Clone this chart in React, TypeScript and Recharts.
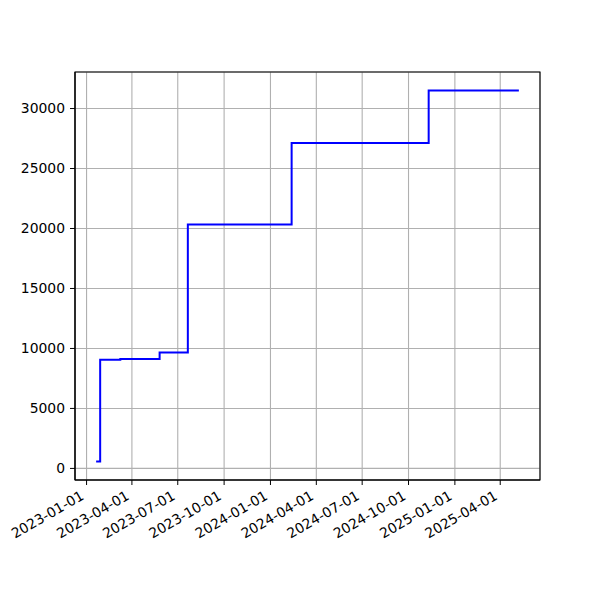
import { LineChart, Line, XAxis, YAxis, CartesianGrid, ReferenceArea } from 'recharts'

// step dates and the value that holds from each date on
const stepDates = ['2023-01-20', '2023-01-28', '2023-03-09', '2023-05-26', '2023-07-21', '2024-02-12', '2024-11-10', '2025-05-08']
const stepValues = [580, 9050, 9130, 9670, 20330, 27130, 31500, 31500]

const xTickDates = ['2023-01-01', '2023-04-01', '2023-07-01', '2023-10-01', '2024-01-01', '2024-04-01', '2024-07-01', '2024-10-01', '2025-01-01', '2025-04-01']
const yTicks = [0, 5000, 10000, 15000, 20000, 25000, 30000]

const toTs = (d: string) => Date.parse(d + 'T00:00:00Z')
const fmt = (t: number) => new Date(t).toISOString().slice(0, 10)

const data = stepDates.map((d, i) => ({ t: toTs(d), v: stepValues[i] }))
const xTicks = xTickDates.map(toTs)

// matplotlib-like 5% margins around the data
const tMin = data[0].t
const tMax = data[data.length - 1].t
const tPad = (tMax - tMin) * 0.05
const vMin = Math.min(...stepValues)
const vMax = Math.max(...stepValues)
const vPad = (vMax - vMin) * 0.05
const xDomain = [tMin - tPad, tMax + tPad]
const yDomain = [vMin - vPad, vMax + vPad]

const FONT = 'DejaVu Sans, sans-serif'

function DateTick(props: any) {
  const { x, y, payload } = props
  return (
    <g transform={`translate(${x - 1.7},${y + 13.5})`}>
      <text x={0} y={0} textAnchor="end" transform="rotate(-30)" fontSize={13.9} fontFamily={FONT} fill="#000">
        {fmt(payload.value)}
      </text>
    </g>
  )
}

export default function App() {
  return (
    <div style={{ position: 'absolute', left: 0, top: 0, width: 600, height: 600, background: '#fff' }}>
      <LineChart width={600} height={600} data={data} margin={{ top: 72, right: 60, bottom: 40, left: 15 }}>
        <CartesianGrid stroke="#b0b0b0" strokeWidth={1.1} />
        <XAxis
          dataKey="t"
          type="number"
          scale="time"
          domain={xDomain}
          ticks={xTicks}
          allowDataOverflow
          height={80}
          tickSize={5}
          tickMargin={0}
          tickLine={{ stroke: '#000' }}
          axisLine={{ stroke: '#000', strokeWidth: 1.1 }}
          tick={<DateTick />}
          interval={0}
        />
        <YAxis
          type="number"
          domain={yDomain}
          ticks={yTicks}
          allowDataOverflow
          width={60}
          tickSize={5}
          tickMargin={5}
          interval={0}
          tickLine={{ stroke: '#000' }}
          axisLine={{ stroke: '#000', strokeWidth: 1.1 }}
          tick={{ fontSize: 13.9, fontFamily: FONT, fill: '#000' }}
        />
        <Line type="stepAfter" dataKey="v" stroke="#0000ff" strokeWidth={2} dot={false} isAnimationActive={false} />
        {/* axes frame */}
        <ReferenceArea x1={xDomain[0]} x2={xDomain[1]} y1={yDomain[0]} y2={yDomain[1]} fill="none" stroke="#000" strokeWidth={1.1} ifOverflow="visible" />
      </LineChart>
    </div>
  )
}
